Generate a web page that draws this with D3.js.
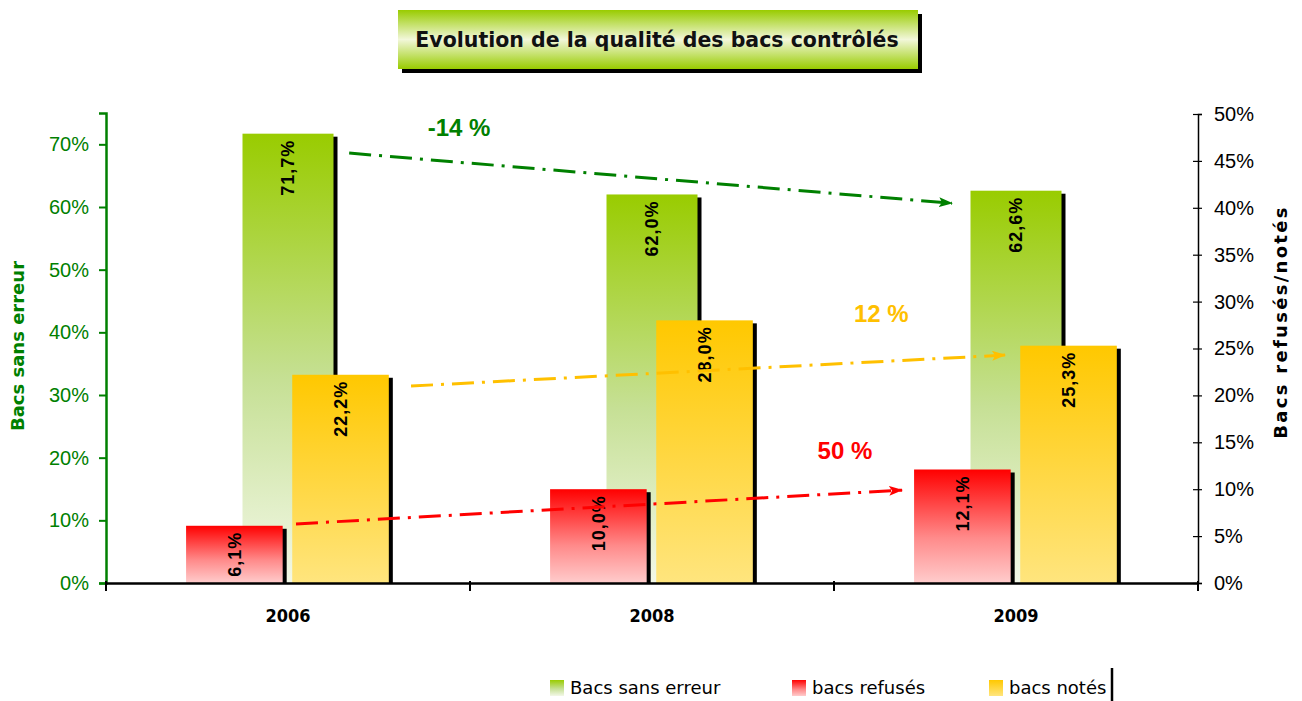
<!DOCTYPE html>
<html>
<head>
<meta charset="utf-8">
<title>Evolution de la qualité des bacs contrôlés</title>
<style>
  body { margin: 0; background: #fff; }
  svg { display: block; }
</style>
</head>
<body>
<svg id="svg"></svg>
<script src="https://d3js.org/d3.v7.min.js"></script>
<script>
// data
const years = ["2006", "2008", "2009"];
const sansErreur = [0.717, 0.620, 0.626];   // left axis
const refuses = [0.061, 0.100, 0.121];      // right axis
const notes = [0.222, 0.280, 0.253];        // right axis
const leftTicks = [0, 0.1, 0.2, 0.3, 0.4, 0.5, 0.6, 0.7];
const rightTicks = [0, 0.05, 0.1, 0.15, 0.2, 0.25, 0.3, 0.35, 0.4, 0.45, 0.5];

// trend arrows: [year, position in band, value] for start / end, label spot
const trendLabels = ["-14 %", "12 %", "50 %"];
const trendAxis = ["left", "right", "right"];
const trendFrom = [["2006", 0.668, 0.686], ["2006", 0.838, 0.210], ["2006", 0.522, 0.063]];
const trendTo = [["2009", 0.324, 0.606], ["2009", 0.470, 0.243], ["2009", 0.187, 0.099]];
const trendText = [["2006", 0.97, 0.726], ["2009", 0.13, 0.287], ["2009", 0.03, 0.141]];
const trendColors = ["#008000", "#FFC000", "#FF0000"];

const width = 1302, height = 701;
const x0 = 106, x1 = 1198, yBase = 583, yTop = 113;

const svg = d3.select("#svg").attr("width", width).attr("height", height);
const defs = svg.append("defs");

function vGrad(id, stops) {
  const g = defs.append("linearGradient").attr("id", id)
    .attr("x1", 0).attr("y1", 0).attr("x2", 0).attr("y2", 1);
  stops.forEach(s => g.append("stop").attr("offset", s[0]).attr("stop-color", s[1]));
}
vGrad("gGreen", [[0, "#99CC00"], [0.55, "#C6E095"], [1, "#F3F8E8"]]);
vGrad("gRed", [[0, "#FF0000"], [0.6, "#FF8A8A"], [1, "#FFCCCC"]]);
vGrad("gYellow", [[0, "#FFC800"], [1, "#FFE57E"]]);
vGrad("gTitle", [[0, "#99CC00"], [0.5, "#F2F7DA"], [1, "#99CC00"]]);

const fr = d3.formatLocale({ decimal: ",", thousands: " ", grouping: [3], currency: ["", " €"], percent: "%" });
const pct1 = fr.format(".1%");
const pct0 = fr.format(".0%");

const xScale = d3.scaleBand().domain(years).range([x0, x1]);
const bw = xScale.bandwidth();
const yLeft = d3.scaleLinear().domain([0, 0.75]).range([yBase, yTop]);
const yRight = d3.scaleLinear().domain([0, 0.5]).range([yBase, yTop + 1]);
const sub = d3.scaleBand().domain(["refuses", "notes"]).range([bw * 0.22, bw * 0.777]).paddingInner(0.09);

const sans = "'DejaVu Sans', Verdana, sans-serif";
const cond = "'DejaVu Sans Condensed', 'DejaVu Sans', sans-serif";
const arial = "'Liberation Sans', Arial, sans-serif";

// title
const title = svg.append("g");
title.append("rect").attr("x", 402).attr("y", 14).attr("width", 520).attr("height", 59).attr("fill", "#000");
title.append("rect").attr("x", 398).attr("y", 10).attr("width", 520).attr("height", 59).attr("fill", "url(#gTitle)");
title.append("text").attr("x", 657).attr("y", 40).attr("dy", "0.36em")
  .attr("text-anchor", "middle")
  .style("font-family", sans)
  .style("font-weight", "bold").style("font-size", "20.5px").attr("fill", "#111")
  .text("Evolution de la qualité des bacs contrôlés");

// bars
const rows = years.map((y, i) => ({ year: y, sans: sansErreur[i], ref: refuses[i], not: notes[i] }));
const bars = [];
rows.forEach(d => {
  const bx = xScale(d.year);
  bars.push({ x: bx + bw * 0.375, w: bw * 0.25, y: yLeft(d.sans), v: d.sans, fill: "url(#gGreen)" });
});
rows.forEach(d => {
  const bx = xScale(d.year);
  bars.push({ x: bx + sub("refuses"), w: sub.bandwidth(), y: yRight(d.ref), v: d.ref, fill: "url(#gRed)" });
  bars.push({ x: bx + sub("notes"), w: sub.bandwidth(), y: yRight(d.not), v: d.not, fill: "url(#gYellow)" });
});

const barG = svg.append("g");
bars.forEach(b => {
  barG.append("rect").attr("x", b.x + 4).attr("y", b.y + 3)
    .attr("width", b.w).attr("height", Math.max(0, yBase - b.y - 3)).attr("fill", "#000");
  barG.append("rect").attr("x", b.x).attr("y", b.y)
    .attr("width", b.w).attr("height", yBase - b.y).attr("fill", b.fill);
});

// value labels
barG.selectAll("text.val")
  .data(bars)
  .join("text")
  .attr("class", "val")
  .attr("transform", b => `translate(${b.x + b.w / 2},${b.y + 6}) rotate(-90)`)
  .attr("text-anchor", "end")
  .attr("dy", "0.35em")
  .style("font-family", arial)
  .style("font-weight", "bold").style("font-size", "18px")
  .style("letter-spacing", "1px")
  .attr("fill", "#000")
  .text(b => pct1(b.v));

// axes
const axL = svg.append("g").attr("transform", `translate(${x0},0)`)
  .call(d3.axisLeft(yLeft).tickValues(leftTicks).tickFormat(pct0).tickSize(7).tickPadding(10));
axL.select(".domain").attr("stroke", "#008000").attr("stroke-width", 2.5);
axL.selectAll(".tick line").attr("stroke", "#008000").attr("stroke-width", 2);
axL.selectAll(".tick text").attr("fill", "#008000")
  .style("font-family", arial).style("font-size", "20px");

const axR = svg.append("g").attr("transform", `translate(${x1},0)`)
  .call(d3.axisRight(yRight).tickValues(rightTicks).tickFormat(pct0).tickSize(4).tickPadding(12));
axR.select(".domain").attr("stroke", "#000").attr("stroke-width", 1.5);
axR.selectAll(".tick line").attr("x1", -5).attr("stroke", "#000").attr("stroke-width", 1.2);
axR.selectAll(".tick text").attr("fill", "#000")
  .style("font-family", arial).style("font-size", "20px");

const axX = svg.append("g").attr("transform", `translate(0,${yBase})`)
  .call(d3.axisBottom(xScale).tickSize(0).tickPadding(26));
axX.select(".domain").attr("stroke", "#000").attr("stroke-width", 2.5);
axX.selectAll(".tick text").attr("fill", "#000")
  .style("font-family", cond)
  .style("font-weight", "bold").style("font-size", "18px");
axX.selectAll("line.sep")
  .data([...years.map(y => xScale(y)), x1])
  .join("line").attr("class", "sep")
  .attr("x1", d => d).attr("x2", d => d).attr("y1", -2).attr("y2", 8)
  .attr("stroke", "#000").attr("stroke-width", 2);

// axis titles
svg.append("text")
  .attr("transform", `translate(18,346) rotate(-90)`)
  .attr("text-anchor", "middle").attr("dy", "0.35em")
  .style("font-family", sans)
  .style("font-weight", "bold").style("font-size", "18px").attr("fill", "#008000")
  .text("Bacs sans erreur");
svg.append("text")
  .attr("transform", `translate(1281,322) rotate(-90)`)
  .attr("text-anchor", "middle").attr("dy", "0.35em")
  .style("font-family", sans)
  .style("font-weight", "bold").style("font-size", "18px")
  .style("letter-spacing", "2.3px").attr("fill", "#000")
  .text("Bacs refusés/notés");

// trend arrows
trendColors.forEach((c, i) => {
  defs.append("marker").attr("id", "arr" + i)
    .attr("viewBox", "0 0 14 10").attr("refX", 13).attr("refY", 5)
    .attr("markerUnits", "userSpaceOnUse").attr("markerWidth", 14).attr("markerHeight", 10)
    .attr("orient", "auto")
    .append("path").attr("d", "M0,0 L14,5 L0,10 L3,5 Z").attr("fill", c);
});
const trendG = svg.append("g");
trendLabels.forEach((lab, i) => {
  const ys = trendAxis[i] === "left" ? yLeft : yRight;
  const px = p => xScale(p[0]) + p[1] * bw;
  const a = trendFrom[i], b = trendTo[i], t = trendText[i];
  trendG.append("line")
    .attr("x1", px(a)).attr("y1", ys(a[2]))
    .attr("x2", px(b)).attr("y2", ys(b[2]))
    .attr("stroke", trendColors[i]).attr("stroke-width", 3)
    .attr("stroke-dasharray", "22,8,3,8")
    .attr("marker-end", `url(#arr${i})`);
  trendG.append("text")
    .attr("x", px(t)).attr("y", ys(t[2])).attr("dy", "0.35em")
    .attr("text-anchor", "middle")
    .style("font-family", arial)
    .style("font-weight", "bold").style("font-size", "24px")
    .attr("fill", trendColors[i])
    .text(lab);
});

// legend
const legendNames = ["Bacs sans erreur", "bacs refusés", "bacs notés"];
const legendFills = ["url(#gGreen)", "url(#gRed)", "url(#gYellow)"];
const legendX = [550, 792, 989];
const legend = svg.append("g");
legendNames.forEach((n, i) => {
  legend.append("rect").attr("x", legendX[i]).attr("y", 680)
    .attr("width", 14).attr("height", 16).attr("fill", legendFills[i]);
  legend.append("text").attr("x", legendX[i] + 20).attr("y", 688).attr("dy", "0.35em")
    .style("font-family", sans)
    .style("font-size", "18px").attr("fill", "#000")
    .text(n);
});
legend.append("line").attr("x1", 1112).attr("x2", 1112).attr("y1", 668).attr("y2", 701)
  .attr("stroke", "#000").attr("stroke-width", 2.5);
</script>
</body>
</html>
